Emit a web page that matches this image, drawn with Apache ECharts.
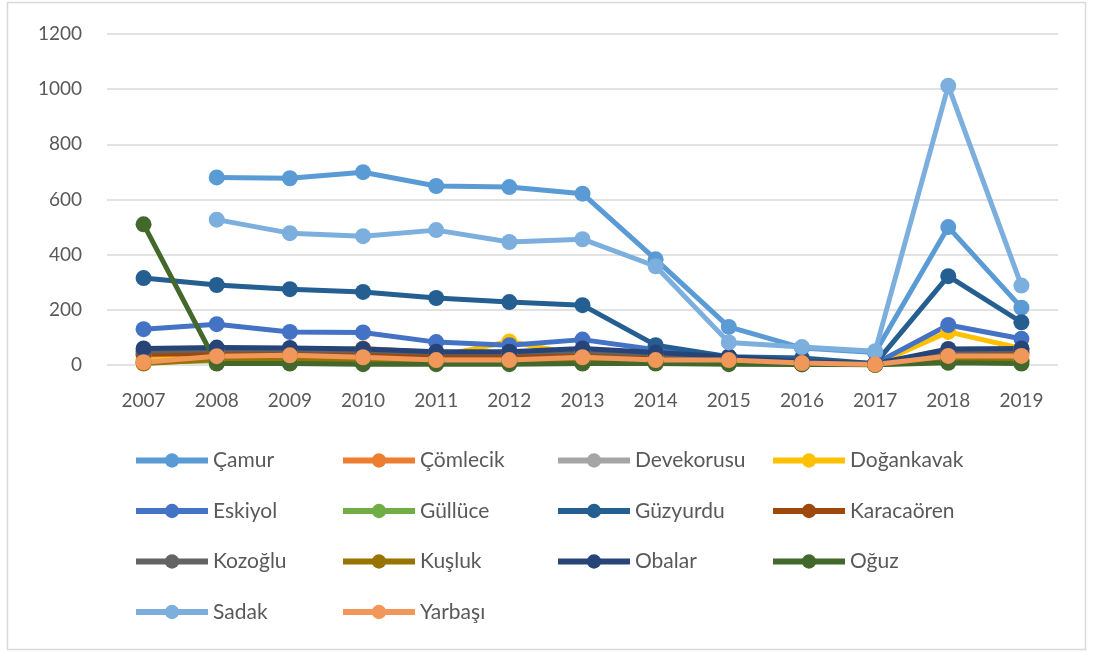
<!DOCTYPE html>
<html>
<head>
<meta charset="utf-8">
<script src="https://cdn.jsdelivr.net/npm/echarts@6/dist/echarts.min.js"></script>
<style>
  html, body { margin: 0; padding: 0; background: #fff; }
  #chart { width: 1094px; height: 655px; }
</style>
</head>
<body>
<div id="chart"></div>
<script>
  // years on the x axis
  const years = ['2007', '2008', '2009', '2010', '2011', '2012', '2013', '2014', '2015', '2016', '2017', '2018', '2019']

  // values per village
  const camur = [null, 680, 677, 699, 649, 645, 621, 383, 138, 62, 45, 500, 208]
  const comlecik = [35, 45, 45, 60, 45, 40, 45, 30, 20, 10, 3, 40, 40]
  const devekorusu = [20, 25, 25, 25, 20, 20, 25, 15, 10, 5, 2, 20, 20]
  const dogankavak = [15, 35, 40, 35, 30, 85, 35, 25, 15, 8, 2, 120, 60]
  const eskiyol = [130, 148, 120, 118, 83, 72, 92, 55, 30, 10, 5, 145, 95]
  const gulluce = [10, 15, 15, 15, 12, 12, 15, 10, 8, 4, 1, 15, 15]
  const guzyurdu = [315, 290, 275, 265, 243, 228, 217, 72, 30, 25, 5, 322, 155]
  const karacaoren = [40, 40, 40, 38, 35, 35, 42, 35, 22, 10, 2, 40, 45]
  const kozoglu = [50, 55, 55, 52, 45, 45, 50, 40, 25, 10, 3, 50, 55]
  const kusluk = [5, 20, 20, 18, 15, 12, 10, 10, 8, 4, 1, 20, 15]
  const obalar = [60, 63, 62, 58, 48, 48, 60, 45, 30, 12, 5, 58, 60]
  const oguz = [510, 5, 5, 3, 3, 3, 5, 5, 3, 2, 1, 8, 5]
  const sadak = [null, 527, 478, 467, 489, 446, 456, 358, 82, 65, 50, 1012, 288]
  const yarbasi = [10, 32, 35, 28, 18, 18, 28, 18, 18, 7, 2, 33, 33]

  const names = ['Çamur', 'Çömlecik', 'Devekorusu', 'Doğankavak', 'Eskiyol', 'Güllüce', 'Güzyurdu',
    'Karacaören', 'Kozoğlu', 'Kuşluk', 'Obalar', 'Oğuz', 'Sadak', 'Yarbaşı']
  const values = [camur, comlecik, devekorusu, dogankavak, eskiyol, gulluce, guzyurdu,
    karacaoren, kozoglu, kusluk, obalar, oguz, sadak, yarbasi]
  const colors = ['#5B9BD5', '#ED7D31', '#A5A5A5', '#FFC000', '#4472C4', '#70AD47', '#255E91',
    '#9E480E', '#636363', '#997300', '#264478', '#43682B', '#7CAFDD', '#F1975A']

  const font = 'Lato, "Open Sans", sans-serif'
  const textColor = '#595959'

  const series = names.map(function(name, i) {
    return {
      name: name,
      type: 'line',
      data: values[i],
      symbol: 'circle',
      symbolSize: 16,
      showAllSymbol: true,
      lineStyle: { width: 5, color: colors[i] },
      itemStyle: { color: colors[i] },
      emphasis: { disabled: true }
    }
  })

  // legend laid out as 4 columns
  const columns = [
    ['Çamur', 'Eskiyol', 'Kozoğlu', 'Sadak'],
    ['Çömlecik', 'Güllüce', 'Kuşluk', 'Yarbaşı'],
    ['Devekorusu', 'Güzyurdu', 'Obalar'],
    ['Doğankavak', 'Karacaören', 'Oğuz']
  ]
  const columnLeft = [133, 340, 555, 770]
  const legends = columns.map(function(col, i) {
    return {
      orient: 'vertical',
      left: columnLeft[i],
      top: 450,
      padding: 0,
      itemWidth: 72,
      itemHeight: 18,
      itemGap: 29.5,
      data: col,
      selectedMode: false,
      lineStyle: { width: 6 },
      textStyle: { fontFamily: font, fontSize: 21, color: textColor }
    }
  })

  const chart = echarts.init(document.getElementById('chart'))
  chart.setOption({
    animation: false,
    color: colors,
    legend: legends,
    graphic: [{
      type: 'rect',
      shape: { x: 7.5, y: 2.5, width: 1078, height: 647 },
      style: { fill: 'none', stroke: '#D9D9D9', lineWidth: 1.5 },
      silent: true
    }],
    grid: { left: 107, right: 36, top: 34, bottom: 290 },
    xAxis: {
      type: 'category',
      data: years,
      boundaryGap: true,
      axisLine: { show: false },
      axisTick: { show: false },
      axisLabel: { fontFamily: font, fontSize: 19, color: textColor, margin: 26 }
    },
    yAxis: {
      type: 'value',
      min: 0,
      max: 1200,
      interval: 200,
      axisLine: { show: false },
      axisTick: { show: false },
      axisLabel: {
        fontFamily: font, fontSize: 19, color: textColor, margin: 25,
        formatter: function(v) { return String(v) }
      },
      splitLine: { lineStyle: { color: '#D9D9D9', width: 1.5 } }
    },
    series: series
  })
</script>
</body>
</html>
